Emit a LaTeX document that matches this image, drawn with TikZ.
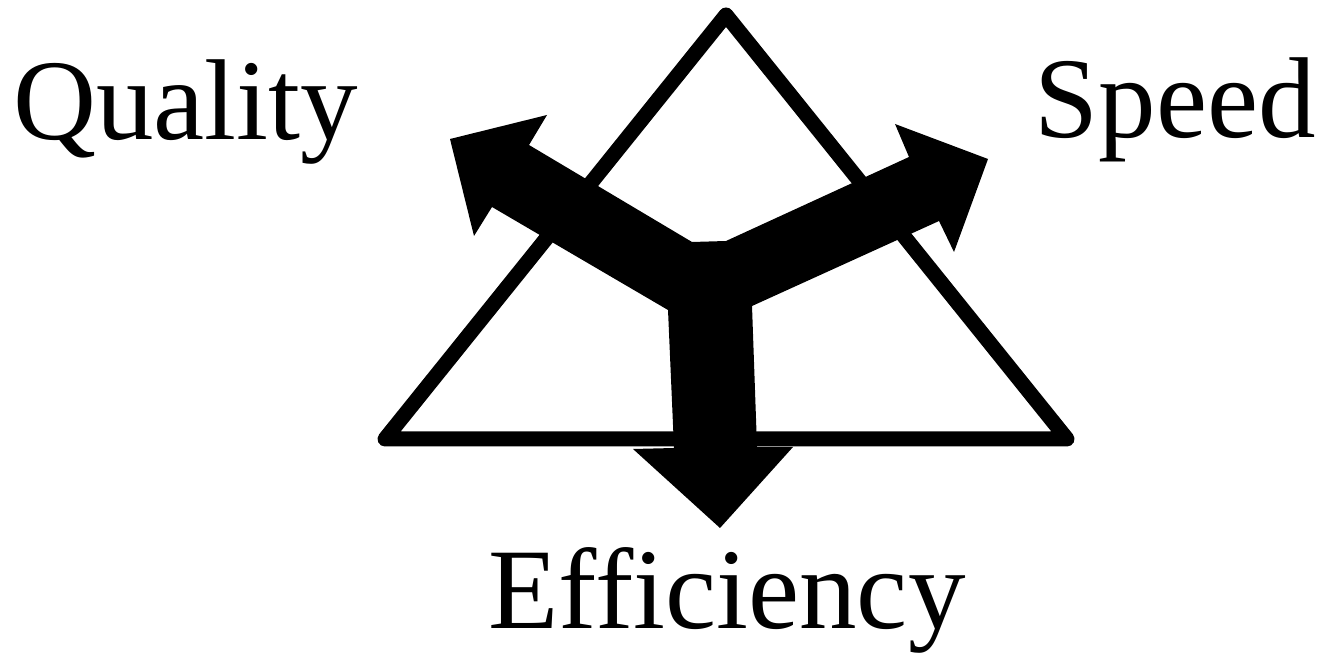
\documentclass[tikz,border=0pt]{standalone}
\usepackage{fontspec}
\setmainfont{Liberation Serif}
\tikzset{
  tri/frame/.style={draw=black, line width=7.5pt, line join=round},
  tri/arrow/.style={fill=black, draw=none},
  tri/label/.style={inner sep=0pt, font=\fontsize{57.5}{60}\selectfont}
}
\begin{document}
\begin{tikzpicture}[x=0.5pt,y=-0.5pt]
  \useasboundingbox (0,0) rectangle (1326,656);
  % triangle
  \coordinate (top) at (726,15);
  \coordinate (left) at (385,439);
  \coordinate (right) at (1067,439);
  \draw[tri/frame] (top) -- (left) -- (right) -- cycle;
  % three-way arrow: quality head
  \coordinate (qTip) at (450,139);
  \coordinate (qBarbUp) at (547,115);
  \coordinate (qNotchUp) at (529,145);
  \coordinate (qNotchLo) at (492,207);
  \coordinate (qBarbLo) at (474,236);
  % speed head
  \coordinate (sNotchUp) at (909,157);
  \coordinate (sBarbUp) at (895,124);
  \coordinate (sTip) at (988,159);
  \coordinate (sBarbLo) at (954,252);
  \coordinate (sNotchLo) at (939,221);
  % efficiency head
  \coordinate (eNotchR) at (757,447);
  \coordinate (eBarbR) at (793,447);
  \coordinate (eTip) at (720,528);
  \coordinate (eBarbL) at (633,449);
  \coordinate (eNotchL) at (674,448);
  % hub
  \coordinate (hubQ) at (692,242);
  \coordinate (hubS) at (726,241);
  \coordinate (hubR) at (752,306);
  \coordinate (hubL) at (668,310);
  \fill[tri/arrow] (qTip) -- (qBarbUp) -- (qNotchUp) -- (hubQ) -- (hubS)
    -- (sNotchUp) -- (sBarbUp) -- (sTip) -- (sBarbLo) -- (sNotchLo) -- (hubR)
    -- (eNotchR) -- (eBarbR) -- (eTip) -- (eBarbL) -- (eNotchL) -- (hubL)
    -- (qNotchLo) -- (qBarbLo) -- cycle;
  % labels
  \node[tri/label,anchor=base west] (quality) at (13,140) {Quality};
  \node[tri/label,anchor=base east] (speed) at (1316,138) {Speed};
  \node[tri/label,anchor=base] (efficiency) at (727,628) {Efficiency};
\end{tikzpicture}
\end{document}
